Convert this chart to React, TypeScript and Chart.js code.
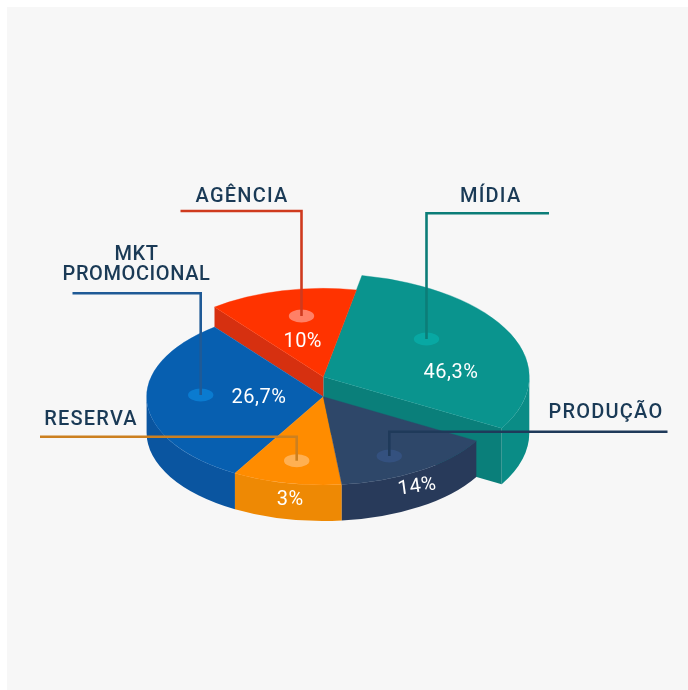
import React, { useEffect, useRef } from "react";
import { Chart, registerables } from "chart.js";

Chart.register(...registerables);

// Category order follows the pie clockwise, starting at the raised teal slice.
const categories = ["MÍDIA", "PRODUÇÃO", "RESERVA", "MKT PROMOCIONAL", "AGÊNCIA"];
// Printed labels in the picture.
const printedShares = ["46,3%", "14%", "3%", "26,7%", "10%"];
// Sweep of each slice as measured in the picture, in degrees (the artwork is not to scale with its labels).
const drawnSweeps = [109.2, 54, 36, 112, 48.8];

const topColors = ["#0a948e", "#2e4769", "#ff8c00", "#075fb0", "#ff3300"];
const wallColors = ["#0a8c86", "#283a5a", "#ee8904", "#0a55a0", "#d93110"];
const cutColors = ["#0a7f7a", "#283a5a", "#ee8904", "#0a55a0", "#d63010"];
const dotColors = ["#08a8a3", "#34517f", "#ffb052", "#0a7bd0", "#ff8066"];
const leaderColors = ["#0c7d78", "#1f3a5a", "#cc8020", "#1f5a96", "#cf3a1e"];

const FLAT = 0.5;
const DEPTH = 36;
const RADIUS = 176.7;
const lifts = [20, 0, 0, 0, 20];
const radiusScale = [206 / 176.7, 1, 1, 1, 1];

const dots = [
  [426.5, 339],
  [389.3, 456],
  [296.7, 460.7],
  [200.7, 395],
  [301.5, 316],
];
const leaders = [
  [[549, 213.3], [426.5, 213.3], [426.5, 339]],
  [[667.5, 431.7], [389.3, 431.7], [389.3, 456]],
  [[40, 436.7], [296.7, 436.7], [296.7, 460.7]],
  [[72.5, 293.3], [200.7, 293.3], [200.7, 395]],
  [[180.5, 211], [301.5, 211], [301.5, 316]],
];
const shareText = [
  { x: 451, y: 373, r: 0 },
  { x: 417.3, y: 487, r: -8 },
  { x: 290.3, y: 500, r: 0 },
  { x: 259, y: 397.5, r: 0 },
  { x: 302.7, y: 342, r: 0 },
];
const nameText = [
  { lines: ["MÍDIA"], x: 490.7, y: 196.5, gap: "1.2px" },
  { lines: ["PRODUÇÃO"], x: 606, y: 412.5, gap: "1.2px" },
  { lines: ["RESERVA"], x: 91, y: 419.5, gap: "1.2px" },
  { lines: ["MKT", "PROMOCIONAL"], x: 136.5, y: 254.5, gap: "0.6px" },
  { lines: ["AGÊNCIA"], x: 242, y: 196.5, gap: "1.2px" },
];

const pie3d = {
  id: "pie3d",
  afterDatasetsUpdate(chart: any) {
    chart.getDatasetMeta(0).data.forEach((arc: any, i: number) => {
      arc.outerRadius = RADIUS * radiusScale[i];
    });
  },
  beforeDatasetsDraw(chart: any) {
    const ctx = chart.ctx;
    const arcs = chart.getDatasetMeta(0).data;

    const top = (i: number) => {
      const arc = arcs[i];
      ctx.save();
      ctx.translate(0, arc.y - lifts[i]);
      ctx.scale(1, FLAT);
      ctx.translate(0, -arc.y);
      arc.draw(ctx);
      ctx.restore();
    };
    const wall = (i: number) => {
      const arc = arcs[i];
      const rx = arc.outerRadius;
      const ry = rx * FLAT;
      const y0 = arc.y - lifts[i];
      const y1 = arc.y + DEPTH;
      const a = Math.max(arc.startAngle, 0);
      const b = Math.min(arc.endAngle, Math.PI);
      if (b <= a) return;
      ctx.beginPath();
      ctx.ellipse(arc.x, y0, rx, ry, 0, a, b);
      ctx.ellipse(arc.x, y1, rx, ry, 0, b, a, true);
      ctx.closePath();
      ctx.fillStyle = wallColors[i];
      ctx.fill();
    };
    const cut = (i: number, angle: number, bottom: number) => {
      const arc = arcs[i];
      const rx = arc.outerRadius;
      const px = arc.x + Math.cos(angle) * rx;
      const py = Math.sin(angle) * rx * FLAT;
      const y0 = arc.y - lifts[i];
      ctx.beginPath();
      ctx.moveTo(arc.x, y0);
      ctx.lineTo(px, y0 + py);
      ctx.lineTo(px, bottom + py);
      ctx.lineTo(arc.x, bottom);
      ctx.closePath();
      ctx.fillStyle = cutColors[i];
      ctx.fill();
    };

    // Raised teal slice first: the navy slice sits in front of its cut face.
    wall(0);
    cut(0, arcs[0].endAngle, arcs[0].y + DEPTH);
    top(0);
    // Raised red slice.
    cut(4, arcs[4].startAngle, arcs[4].y);
    top(4);
    // Base level slices.
    [3, 2, 1].forEach(wall);
    [3, 2, 1].forEach(top);
    return false;
  },
  afterDraw(chart: any) {
    const ctx = chart.ctx;
    categories.forEach((_, i) => {
      ctx.beginPath();
      ctx.ellipse(dots[i][0], dots[i][1], 12.7, 6.5, 0, 0, Math.PI * 2);
      ctx.fillStyle = dotColors[i];
      ctx.fill();
      ctx.beginPath();
      leaders[i].forEach(([x, y], k) => (k ? ctx.lineTo(x, y) : ctx.moveTo(x, y)));
      ctx.strokeStyle = leaderColors[i];
      ctx.lineWidth = 2.6;
      ctx.lineJoin = "miter";
      ctx.stroke();
    });
    ctx.textAlign = "center";
    ctx.textBaseline = "middle";
    ctx.fillStyle = "#ffffff";
    ctx.font = "400 20px Roboto";
    ctx.letterSpacing = "0.5px";
    printedShares.forEach((s, i) => {
      const t = shareText[i];
      ctx.save();
      ctx.translate(t.x, t.y);
      ctx.rotate((t.r * Math.PI) / 180);
      ctx.fillText(s, 0, 0);
      ctx.restore();
    });
    ctx.fillStyle = "#1a3a56";
    ctx.font = "500 20px Roboto";
    nameText.forEach((t) => {
      ctx.letterSpacing = t.gap;
      t.lines.forEach((line, k) => ctx.fillText(line, t.x, t.y + k * 20));
    });
    ctx.letterSpacing = "0px";
  },
};

export default function App() {
  const ref = useRef<HTMLCanvasElement>(null);
  useEffect(() => {
    const chart = new Chart(ref.current as HTMLCanvasElement, {
      type: "pie",
      data: {
        labels: categories,
        datasets: [
          {
            data: drawnSweeps,
            backgroundColor: topColors,
            borderColor: topColors,
            borderWidth: 0.5,
            radius: RADIUS,
          } as any,
        ],
      },
      options: {
        animation: false,
        responsive: false,
        rotation: 10.8,
        layout: { padding: { left: 0, right: 41.4, top: 103.4, bottom: 0 } },
        plugins: { legend: { display: false }, tooltip: { enabled: false } },
      },
      plugins: [pie3d as any],
    });
    return () => chart.destroy();
  }, []);
  return (
    <div style={{ position: "absolute", left: 0, top: 0, width: 688, height: 690, background: "#ffffff", overflow: "hidden" }}>
      <div style={{ position: "absolute", left: 7, top: 7, right: 0, bottom: 0, background: "#f7f7f7" }} />
      <canvas ref={ref} width={688} height={690} style={{ position: "absolute", left: 0, top: 0, display: "block" }} />
    </div>
  );
}
